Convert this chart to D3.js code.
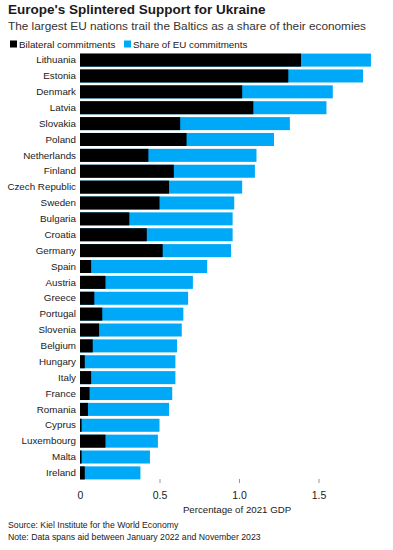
<!DOCTYPE html>
<html>
<head>
<meta charset="utf-8">
<script src="https://cdn.jsdelivr.net/npm/d3@7"></script>
<style>
  body { margin: 0; background: #fff; font-family: "Liberation Sans", Arial, sans-serif; }
  text { fill: #1a1a1a; }
</style>
</head>
<body>
<div id="chart"></div>
<script>
const width = 393
const height = 550
const margin = { top: 52, bottom: 69, left: 80 }

const countries = ["Lithuania", "Estonia", "Denmark", "Latvia", "Slovakia", "Poland", "Netherlands",
    "Finland", "Czech Republic", "Sweden", "Bulgaria", "Croatia", "Germany", "Spain", "Austria",
    "Greece", "Portugal", "Slovenia", "Belgium", "Hungary", "Italy", "France", "Romania", "Cyprus",
    "Luxembourg", "Malta", "Ireland"]
const bilateral = [1.39, 1.31, 1.02, 1.09, 0.63, 0.67, 0.43, 0.59, 0.56, 0.50, 0.31, 0.42, 0.52,
    0.07, 0.16, 0.09, 0.14, 0.12, 0.08, 0.03, 0.07, 0.06, 0.05, 0.01, 0.16, 0.01, 0.03]
const total = [1.83, 1.78, 1.59, 1.55, 1.32, 1.22, 1.11, 1.10, 1.02, 0.97, 0.96, 0.96, 0.95,
    0.80, 0.71, 0.68, 0.65, 0.64, 0.61, 0.60, 0.60, 0.58, 0.56, 0.50, 0.49, 0.44, 0.38]
const xTicks = [0, 0.5, 1, 1.5, 2]
const tickLabels = ["0", "0.5", "1.0", "1.5", "2"]

const black = "#000000"
const blue = "#00a9f7"

const svg = d3.select("div#chart").append("svg").attr("width", width).attr("height", height)

// titles
svg.append("text").attr("x", 8).attr("y", 14)
    .style("font-size", "13.5px").style("font-weight", "bold").text("Europe's Splintered Support for Ukraine")
svg.append("text").attr("x", 8).attr("y", 30)
    .style("font-size", "11.8px").style("fill", "#333").text("The largest EU nations trail the Baltics as a share of their economies")

// legend
const legend = svg.append("g").attr("class", "legend")
const legendItems = [["Bilateral commitments", black, 10], ["Share of EU commitments", blue, 124]]
legendItems.forEach(([label, color, lx]) => {
    legend.append("rect").attr("x", lx).attr("y", 40.5).attr("width", 7).attr("height", 7).attr("fill", color)
    legend.append("text").attr("x", lx + 9).attr("y", 47.5)
        .style("font-size", "9.8px").text(label)
})

const x = d3.scaleLinear().domain([0, 2]).range([margin.left, 398])
const y = d3.scaleBand().domain(countries).range([margin.top, height - margin.bottom]).paddingInner(0.18).paddingOuter(0.1)

const data = countries.map((c, i) => ({ country: c, bilateral: bilateral[i], total: total[i] }))

const elementGroup = svg.append("g").attr("class", "elementGroup")

// blue = full bar, black drawn on top
elementGroup.selectAll("rect.total").data(data).enter()
    .append("rect").attr("class", "total")
    .attr("x", x(0))
    .attr("y", d => y(d.country))
    .attr("width", d => x(d.total) - x(0))
    .attr("height", y.bandwidth())
    .attr("fill", blue)

elementGroup.selectAll("rect.bilateral").data(data).enter()
    .append("rect").attr("class", "bilateral")
    .attr("x", x(0))
    .attr("y", d => y(d.country))
    .attr("width", d => Math.max(1, x(d.bilateral) - x(0)))
    .attr("height", y.bandwidth())
    .attr("fill", black)

// country labels
const yAxisGroup = svg.append("g").attr("class", "yAxisGroup").attr("transform", `translate(${margin.left - 4}, 0)`)
yAxisGroup.call(d3.axisLeft(y).tickSize(0).tickPadding(0))
yAxisGroup.select(".domain").remove()
yAxisGroup.selectAll("text").style("font-size", "9.8px").style("font-family", "Liberation Sans, Arial, sans-serif").attr("fill", "#1a1a1a")

// x axis
const xAxisGroup = svg.append("g").attr("class", "xAxisGroup").attr("transform", `translate(0, 479)`)
xAxisGroup.call(d3.axisBottom(x).tickValues(xTicks).tickFormat((d, i) => tickLabels[i]).tickSize(4).tickPadding(9))
xAxisGroup.select(".domain").remove()
xAxisGroup.selectAll(".tick line").attr("stroke", "#999").attr("opacity", (d) => d === 0 ? 0 : 1)
xAxisGroup.selectAll("text").style("font-size", "10.5px").style("font-family", "Liberation Sans, Arial, sans-serif").attr("fill", "#1a1a1a")

svg.append("text").attr("x", 237).attr("y", 513).attr("text-anchor", "middle")
    .style("font-size", "9.7px").text("Percentage of 2021 GDP")

svg.append("text").attr("x", 8).attr("y", 528).style("font-size", "8.7px").text("Source: Kiel Institute for the World Economy")
svg.append("text").attr("x", 8).attr("y", 540).style("font-size", "8.7px").text("Note: Data spans aid between January 2022 and November 2023")
</script>
</body>
</html>
